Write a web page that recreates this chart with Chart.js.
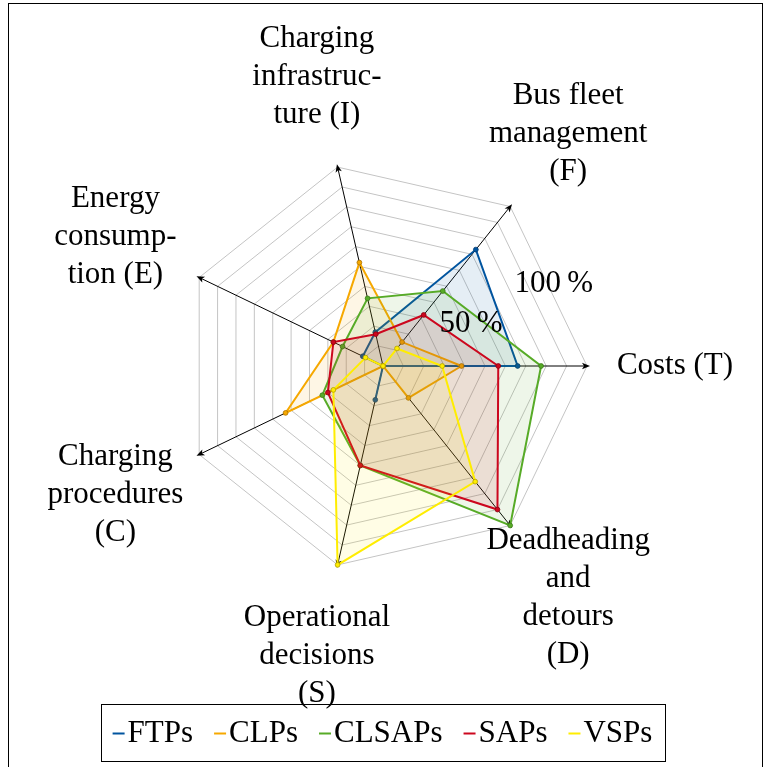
<!DOCTYPE html>
<html>
<head>
<meta charset="utf-8">
<script src="https://cdn.jsdelivr.net/npm/chart.js@4.4.1/dist/chart.umd.min.js"></script>
<style>
  html, body { margin: 0; padding: 0; background: #fff; overflow: hidden; }
  #wrap { position: relative; width: 766px; height: 767px; }
  #frame { position: absolute; left: 8px; top: 3px; width: 755px; height: 800px;
           border: 1.5px solid #000; box-sizing: border-box; pointer-events: none; }
</style>
</head>
<body>
<div id="wrap">
  <canvas id="c" width="766" height="767"></canvas>
  <div id="frame"></div>
</div>
<script>
// Axis categories (order: clockwise from the right-hand axis)
const categories = [
  ["Costs (T)"],
  ["Deadheading", "and", "detours", "(D)"],
  ["Operational", "decisions", "(S)"],
  ["Charging", "procedures", "(C)"],
  ["Energy", "consump-", "tion (E)"],
  ["Charging", "infrastruc-", "ture (I)"],
  ["Bus fleet", "management", "(F)"]
];
const seriesNames = ["FTPs", "CLPs", "CLSAPs", "SAPs", "VSPs"];
// Values in percent, same order as categories
const ftpsValues   = [66, 0, 17, 0, 11, 17, 73];
const clpsValues   = [38.5, 20, 0, 53, 27, 52, 15];
const clsapsValues = [77.5, 100, 50, 33, 22, 34, 47];
const sapsValues   = [56.5, 90, 50, 30, 27, 16, 32];
const vspsValues   = [29, 72.5, 100, 27, 9.5, 0, 11];
const tickLabels = [50, 100];

const seriesColors = ["#00549F", "#F6A800", "#57AB27", "#CC071E", "#FFED00"];
const pointBorders = ["#003a70", "#a87000", "#3a7a18", "#8a0010", "#b0a000"];
const FONT = '"Liberation Serif", "Times New Roman", serif';
const FS = 31;

function rgba(hex, a) {
  const n = parseInt(hex.slice(1), 16);
  return `rgba(${(n >> 16) & 255},${(n >> 8) & 255},${n & 255},${a})`;
}

const allValues = [ftpsValues, clpsValues, clsapsValues, sapsValues, vspsValues];
const datasets = allValues.map((vals, i) => ({
  label: seriesNames[i],
  data: vals,
  borderColor: seriesColors[i],
  backgroundColor: rgba(seriesColors[i], 0.1),
  borderWidth: 2,
  fill: true,
  pointRadius: 2.4,
  pointBorderWidth: 0.8,
  pointBackgroundColor: seriesColors[i],
  pointBorderColor: pointBorders[i],
  order: seriesNames.length - i
}));

const decor = {
  id: 'decor',
  beforeDatasetsDraw(chart) {
    const s = chart.scales.r, ctx = chart.ctx;
    const R = s.getDistanceFromCenterForValue(s.max);
    ctx.save();
    ctx.fillStyle = '#000';
    for (let i = 0; i < categories.length; i++) {
      const a = s.getIndexAngle(i) - Math.PI / 2;
      const tip = s.getPointPosition(i, R + 3);
      ctx.save();
      ctx.translate(tip.x, tip.y);
      ctx.rotate(a);
      ctx.beginPath();
      ctx.moveTo(0, 0);
      ctx.lineTo(-8, -3.2);
      ctx.lineTo(-6, 0);
      ctx.lineTo(-8, 3.2);
      ctx.closePath();
      ctx.fill();
      ctx.restore();
    }
    ctx.restore();
  },
  afterDraw(chart) {
    const s = chart.scales.r, ctx = chart.ctx;
    const R = s.getDistanceFromCenterForValue(s.max);
    ctx.save();
    ctx.fillStyle = '#000';
    ctx.font = `${FS}px ${FONT}`;
    ctx.textAlign = 'center';
    ctx.textBaseline = 'middle';
    // axis labels
    const lh = 38;
    chart.data.labels.forEach((lines, i) => {
      const p = s.getPointPosition(i, R + (i === 0 ? 88 : 93));
      lines.forEach((t, k) => {
        ctx.fillText(t, p.x, p.y + (k - (lines.length - 1) / 2) * lh);
      });
    });
    // percentage labels between first and last axis
    const mid = s.getIndexAngle(0) - Math.PI / categories.length - Math.PI / 2;
    tickLabels.forEach(v => {
      const d = s.getDistanceFromCenterForValue(v) * 0.9 + 6;
      ctx.fillText(v + '\u2009%', s.xCenter + Math.cos(mid) * d, s.yCenter + Math.sin(mid) * d);
    });
    // legend
    const lineLen = 12, gap = 3, itemGap = 21, padX = 12;
    const widths = seriesNames.map(n => ctx.measureText(n).width);
    let total = 0;
    widths.forEach((w, i) => { total += lineLen + gap + w + (i ? itemGap : 0); });
    const boxW = total + 2 * padX, boxX = 382.5 - boxW / 2, boxY = 704, boxH = 57;
    ctx.lineWidth = 1;
    ctx.strokeStyle = '#000';
    ctx.strokeRect(Math.round(boxX) + 0.5, boxY + 0.5, Math.round(boxW), boxH);
    let x = boxX + padX;
    const ym = boxY + boxH / 2 + 1;
    ctx.textAlign = 'left';
    seriesNames.forEach((n, i) => {
      ctx.strokeStyle = seriesColors[i];
      ctx.lineWidth = 2;
      ctx.beginPath();
      ctx.moveTo(x, ym); ctx.lineTo(x + lineLen, ym);
      ctx.stroke();
      ctx.fillText(n, x + lineLen + gap, ym);
      x += lineLen + gap + widths[i] + itemGap;
    });
    ctx.restore();
  }
};

new Chart(document.getElementById('c'), {
  type: 'radar',
  data: { labels: categories, datasets },
  options: {
    responsive: false,
    animation: false,
    devicePixelRatio: 1,
    layout: { padding: { left: 179, right: 179, top: 162, bottom: 197 } },
    plugins: { legend: { display: false }, tooltip: { enabled: false } },
    elements: { line: { tension: 0 } },
    scales: {
      r: {
        min: 0, max: 100,
        startAngle: 90,
        ticks: { display: false, stepSize: 10 },
        grid: { color: '#c4c4c4', lineWidth: 1 },
        angleLines: { color: '#000', lineWidth: 1 },
        pointLabels: { display: false }
      }
    }
  },
  plugins: [decor]
});
</script>
</body>
</html>
